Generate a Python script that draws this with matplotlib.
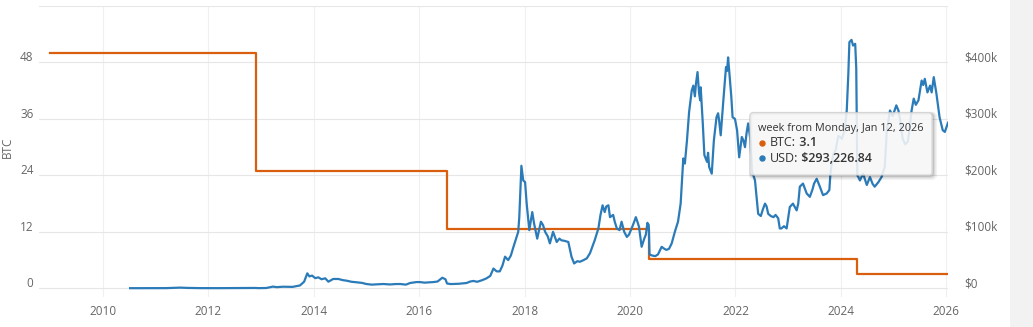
import matplotlib
matplotlib.use("Agg")
import matplotlib.pyplot as plt
import matplotlib.transforms as mtransforms
from matplotlib.patches import FancyBboxPatch, Rectangle
from matplotlib.ticker import FuncFormatter

plt.rcParams["font.family"] = ["Open Sans", "DejaVu Sans"]

INK = "#333333"
TICK = "#666666"
ORANGE = "#d95f0e"
BLUE = "#2b7bb9"

# block reward in BTC, stepping down at each halving
reward_x = [2009.0, 2012.91, 2016.52, 2020.36, 2024.30, 2026.03]
reward_btc = [50, 25, 12.5, 6.25, 3.125, 3.125]

# USD value of the block reward ($k)
usd_x = [
    2010.52, 2010.80, 2011.20, 2011.40, 2011.47, 2011.60, 2011.85, 2012.20, 2012.60, 2012.90,
    2012.95, 2013.10, 2013.23, 2013.30, 2013.42, 2013.60, 2013.74, 2013.82, 2013.88, 2013.92,
    2013.97, 2014.03, 2014.09, 2014.15, 2014.22, 2014.28, 2014.37, 2014.47, 2014.55, 2014.63,
    2014.72, 2014.82, 2014.92, 2015.00, 2015.10, 2015.20, 2015.32, 2015.45, 2015.55, 2015.64,
    2015.75, 2015.83, 2015.95, 2016.02, 2016.10, 2016.27, 2016.35, 2016.44, 2016.50, 2016.53,
    2016.60, 2016.75, 2016.90, 2016.97, 2017.03, 2017.10, 2017.20, 2017.28, 2017.35, 2017.41,
    2017.47, 2017.53, 2017.58, 2017.63, 2017.69, 2017.74, 2017.79, 2017.85, 2017.88, 2017.90,
    2017.94, 2017.975, 2018.01, 2018.04, 2018.09, 2018.146, 2018.18, 2018.24, 2018.31, 2018.35,
    2018.39, 2018.44, 2018.48, 2018.54, 2018.61, 2018.66, 2018.70, 2018.76, 2018.83, 2018.89,
    2018.94, 2019.00, 2019.05, 2019.12, 2019.18, 2019.24, 2019.33, 2019.40, 2019.44, 2019.48,
    2019.52, 2019.55, 2019.59, 2019.62, 2019.68, 2019.71, 2019.75, 2019.80, 2019.84, 2019.89,
    2019.94, 2019.98, 2020.03, 2020.08, 2020.11, 2020.14, 2020.17, 2020.22, 2020.27, 2020.30,
    2020.33, 2020.355, 2020.37, 2020.42, 2020.48, 2020.53, 2020.60, 2020.65, 2020.69, 2020.74,
    2020.79, 2020.85, 2020.91, 2020.96, 2021.01, 2021.04, 2021.08, 2021.12, 2021.17, 2021.20,
    2021.23, 2021.25, 2021.28, 2021.31, 2021.33, 2021.34, 2021.38, 2021.41, 2021.46, 2021.48,
    2021.50, 2021.55, 2021.59, 2021.64, 2021.67, 2021.69, 2021.72, 2021.77, 2021.82, 2021.84,
    2021.86, 2021.89, 2021.92, 2021.945, 2021.99, 2022.03, 2022.07, 2022.12, 2022.15, 2022.18,
    2022.21, 2022.24, 2022.28, 2022.31, 2022.34, 2022.37, 2022.43, 2022.48, 2022.52, 2022.56,
    2022.59, 2022.62, 2022.67, 2022.72, 2022.76, 2022.81, 2022.84, 2022.87, 2022.92, 2022.97,
    2023.03, 2023.09, 2023.12, 2023.16, 2023.19, 2023.22, 2023.28, 2023.35, 2023.41, 2023.46,
    2023.49, 2023.54, 2023.60, 2023.66, 2023.73, 2023.78, 2023.80, 2023.85, 2023.90, 2023.95,
    2024.02, 2024.07, 2024.11, 2024.14, 2024.16, 2024.20, 2024.23, 2024.27, 2024.29, 2024.31,
    2024.33, 2024.36, 2024.42, 2024.49, 2024.55, 2024.60, 2024.64, 2024.71, 2024.77, 2024.83,
    2024.87, 2024.93, 2024.98, 2025.05, 2025.09, 2025.12, 2025.17, 2025.22, 2025.27, 2025.31,
    2025.34, 2025.38, 2025.42, 2025.47, 2025.53, 2025.56, 2025.59, 2025.64, 2025.69, 2025.72,
    2025.76, 2025.81, 2025.87, 2025.93, 2025.97, 2026.03,
]
usd_k = [
    0.2, 0.2, 0.3, 1.0, 1.2, 0.7, 0.3, 0.25, 0.5, 0.6,
    0.3, 0.5, 3.0, 2.0, 2.8, 2.5, 5.0, 11.7, 26.5, 21.0,
    22.5, 18.0, 19.4, 16.0, 17.7, 11.7, 16.5, 16.5, 14.5, 13.4,
    11.5, 10.6, 9.5, 7.6, 6.5, 7.0, 7.6, 6.8, 7.5, 7.6,
    6.5, 9.4, 11.0, 11.0, 10.0, 11.0, 12.0, 18.7, 16.0, 8.5,
    7.5, 8.0, 9.4, 12.0, 13.0, 11.5, 14.5, 17.7, 22.0, 35.0,
    30.0, 30.0, 40.0, 56.0, 50.0, 58.0, 73.5, 91.0, 100.0, 126.0,
    217.0, 191.0, 188.0, 150.0, 103.0, 135.0, 115.0, 88.0, 118.0, 112.0,
    100.0, 92.0, 79.5, 100.0, 82.0, 88.0, 85.0, 84.0, 82.0, 56.0,
    44.0, 48.0, 47.0, 50.0, 53.0, 62.0, 85.0, 106.0, 130.0, 147.0,
    135.0, 145.0, 147.0, 126.0, 130.0, 118.0, 106.0, 103.0, 118.0, 100.0,
    91.0, 95.0, 106.0, 118.0, 126.0, 118.0, 109.0, 73.5, 88.0, 95.0,
    116.0, 112.0, 60.0, 58.0, 57.0, 60.0, 73.5, 70.0, 68.0, 70.0,
    79.5, 100.0, 118.0, 150.0, 230.0, 221.0, 262.0, 312.0, 350.0, 359.0,
    340.0, 362.0, 383.0, 345.0, 333.0, 356.0, 292.0, 236.0, 224.0, 240.0,
    215.0, 203.0, 262.0, 303.0, 310.0, 297.0, 271.0, 333.0, 392.0, 385.0,
    409.0, 374.0, 340.0, 303.0, 300.0, 280.0, 232.0, 268.0, 262.0, 250.0,
    275.0, 292.0, 265.0, 209.0, 200.0, 191.0, 132.0, 128.0, 140.0, 150.0,
    145.0, 132.0, 128.0, 126.0, 130.0, 124.0, 106.0, 106.0, 110.0, 106.0,
    144.0, 150.0, 145.0, 138.0, 150.0, 180.0, 185.5, 168.0, 162.0, 175.0,
    185.5, 194.0, 180.0, 165.0, 168.0, 174.0, 203.0, 236.0, 245.0, 270.0,
    265.0, 280.0, 315.0, 380.0, 436.0, 440.0, 430.0, 433.0, 390.0, 200.0,
    197.0, 191.0, 203.0, 183.0, 197.0, 185.0, 180.0, 188.0, 197.0, 215.0,
    280.0, 315.0, 305.0, 324.0, 315.0, 300.0, 265.0, 255.0, 260.0, 290.0,
    315.0, 336.0, 325.0, 333.0, 368.0, 360.0, 371.0, 347.0, 359.0, 347.0,
    374.0, 345.0, 303.0, 280.0, 277.0, 293.2,
]

btc_ticks = [0, 12, 24, 36, 48, 60]
usd_ticks = [0, 100, 200, 300, 400]
year_ticks = list(range(2010, 2027, 2))

tooltip_header = "week from Monday, Jan 12, 2026"
tooltip_rows = [("BTC:", "3.1", ORANGE), ("USD:", "$293,226.84", BLUE)]

W, H = 1033, 327
fig = plt.figure(figsize=(W / 100, H / 100), dpi=100)
fig.patch.set_facecolor("white")
fig.patches.append(Rectangle((1010 / W, 0), 23 / W, 1, transform=fig.transFigure,
                             facecolor="#f2f2f2", edgecolor="none"))

ax = fig.add_axes([39 / W, 1 - 297 / H, (948 - 39) / W, (297 - 6) / H])
ax.set_xlim(2008.792, 2026.03)
ax.set_ylim(-1.85, 60)
for s in ax.spines.values():
    s.set_visible(False)

ax.set_yticks(btc_ticks)
ax.set_yticklabels([str(v) if v < 60 else "" for v in btc_ticks])
ax.set_xticks(year_ticks)
ax.set_xticklabels([str(y) for y in year_ticks])
ax.tick_params(axis="y", length=0, pad=4, labelsize=8.5, labelcolor=TICK)
ax.tick_params(axis="x", length=0, pad=6, labelsize=8.5, labelcolor=TICK)
ax.grid(axis="y", color="#e6e6e6", linewidth=0.8)
ax.grid(axis="x", color="#f0f0f0", linewidth=0.8)
ax.set_axisbelow(True)

ax.plot(reward_x, reward_btc, drawstyle="steps-post", color=ORANGE, linewidth=1.6)

ax2 = ax.twinx()
ax2.set_ylim(-1.85 * 400 / 48, 500)
for s in ax2.spines.values():
    s.set_visible(False)
ax2.set_yticks(usd_ticks)
ax2.yaxis.set_major_formatter(FuncFormatter(lambda v, _: "$0" if v == 0 else f"${v:.0f}k"))
ax2.tick_params(axis="y", length=0, pad=12, labelsize=8.5, labelcolor=TICK)
ax2.plot(usd_x, usd_k, color=BLUE, linewidth=1.6)

# lift y labels above their grid lines
lift = mtransforms.ScaledTranslation(0, 6 / 100, fig.dpi_scale_trans)
for lab in ax.get_yticklabels() + ax2.get_yticklabels():
    lab.set_transform(lab.get_transform() + lift)

fig.text(7.5 / W, 1 - 147 / H, "BTC", rotation=90, ha="center", va="center",
         fontsize=8.5, color=TICK)

# tooltip overlay in pixel coordinates
ov = fig.add_axes([0, 0, 1, 1], zorder=10)
ov.set_xlim(0, W)
ov.set_ylim(H, 0)
ov.axis("off")
ov.patch.set_alpha(0)
bx, by, bw, bh = 750, 112.7, 182, 62.3
for k in (3, 2, 1):
    ov.add_patch(FancyBboxPatch((bx + 1, by + 1), bw + k - 1, bh + k - 1,
                                boxstyle="round,pad=0,rounding_size=3",
                                facecolor="none", edgecolor="black", linewidth=k,
                                alpha=0.05 * (4 - k)))
ov.add_patch(FancyBboxPatch((bx, by), bw, bh, boxstyle="round,pad=0,rounding_size=3",
                            facecolor="#f7f7f7", edgecolor="#d0d0d0", linewidth=0.8,
                            alpha=0.88))
ov.text(758, 128.3, tooltip_header, ha="left", va="center", fontsize=7.8, color=INK)
for i, (lab, val, col) in enumerate(tooltip_rows):
    yy = 142.7 + i * 15.6
    ov.plot(761.7, yy, "o", markersize=3.6, color=col)
    t = ov.text(769.5, yy, lab, ha="left", va="center", fontsize=9, color=INK)
    ov.annotate(" " + val, xy=(1, 0), xycoords=t, ha="left", va="bottom",
                fontsize=9, fontweight="semibold", color=INK)

fig.savefig("out.png", dpi=100)
